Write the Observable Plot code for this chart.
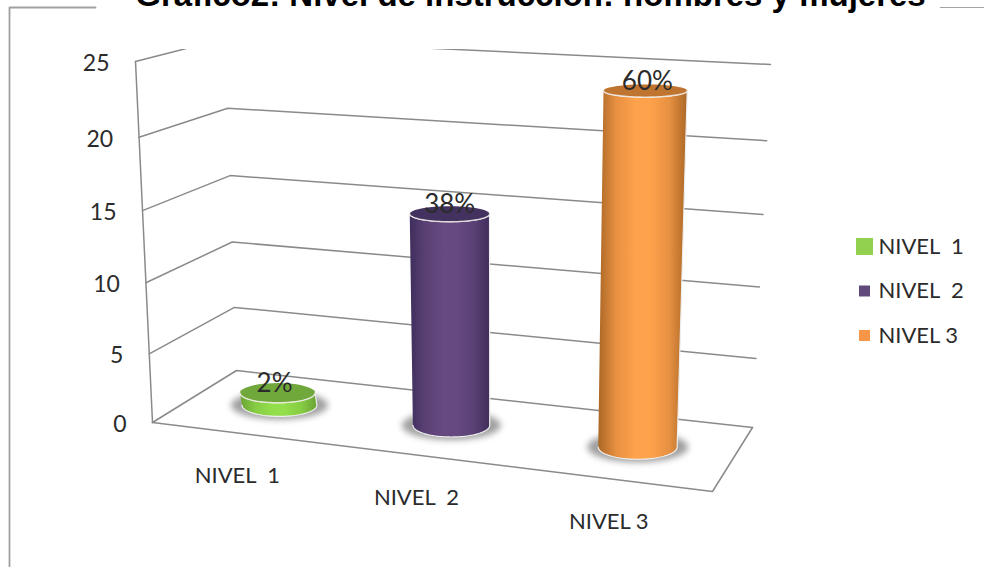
<!DOCTYPE html>
<html lang="es">
<head>
<meta charset="utf-8">
<title>Gráfico 2</title>
<script src="https://cdn.jsdelivr.net/npm/d3@7"></script>
<script src="https://cdn.jsdelivr.net/npm/@observablehq/plot@0.6"></script>
<style>
  html, body { margin: 0; padding: 0; background: #fff; }
  svg { display: block; }
</style>
</head>
<body>
<script>
// Chart content
const chartTitle = "Gráfico2: Nivel de instrucción: hombres y mujeres";
const categories = ["NIVEL  1", "NIVEL  2", "NIVEL 3"];
const legendLabels = ["NIVEL  1", "NIVEL  2", "NIVEL 3"];
const counts = [1, 15, 24];
const shares = ["2%", "38%", "60%"];
const valueTicks = [0, 5, 10, 15, 20, 25];

// Bar colours: legend swatch, lit side, shaded side, cap
const swatchColors = ["#92d050", "#604a7b", "#f79646"];
const sideLight = ["#93de4b", "#66497f", "#ffa24c"];
const sideDark = ["#68a233", "#3f2e5c", "#ab6726"];
const capColors = ["#70a83c", "#43325f", "#bf7530"];

// Oblique view of the chart box: floor corners and how each vertical edge rises.
const floor = {fl: [152, 422], bl: [236, 370], br: [752, 427], fr: [712, 491]};
const rise = {fl: [-17, -361], bl: [-11, -332], br: [18, -363], fr: [10, -395]};
// Heights foreshorten slightly, so the value scale is piecewise.
const heightScale = Plot.scale({
  y: {type: "linear", domain: valueTicks, range: [0, 0.19, 0.387, 0.587, 0.79, 1]}
});
// Where each category stands along the width of the floor.
const slotScale = Plot.scale({
  x: {type: "ordinal", domain: categories, range: [0.155, 0.475, 0.822]}
});

const mix = (a, b, t) => a + (b - a) * t;
const mix2 = (a, b, t) => [mix(a[0], b[0], t), mix(a[1], b[1], t)];
// u runs left to right, w runs front to back, v is the chart value.
function project(u, w, v) {
  const base = mix2(mix2(floor.fl, floor.fr, u), mix2(floor.bl, floor.br, u), w);
  const up = mix2(mix2(rise.fl, rise.fr, u), mix2(rise.bl, rise.br, u), w);
  const t = heightScale.apply(v);
  return {x: base[0] + up[0] * t, y: base[1] + up[1] * t};
}

// Wall gridlines run front-left, back-left, back-right at each tick value.
const gridPoints = valueTicks.flatMap((v) =>
  [project(0, 0, v), project(0, 1, v), project(1, 1, v)].map((p) => ({...p, v}))
);
const outlineFloor = [project(0, 0, 0), project(1, 0, 0), project(1, 1, 0)];
const leftEdge = [project(0, 0, 25), project(0, 0, 0)];

function arc(c, rx, ry, from, to, n = 48) {
  return d3.range(n + 1).map((i) => {
    const a = mix(from, to, i / n);
    return {x: c.x + rx * Math.cos(a), y: c.y + ry * Math.sin(a)};
  });
}

// Derived geometry of one cylinder.
const bars = categories.map((c, i) => {
  const u = slotScale.apply(c);
  const t = heightScale.apply(counts[i]);
  const bottom = project(u, 0.52, 0);
  const top = project(u, 0.5, counts[i]);
  const rxBase = 37 + 3 * u;
  const rxTop = rxBase + 2.5 * t;
  const ryBase = 11 + 1.5 * u;
  const ryTop = 10 - 3.8 * t;
  return {i, c, u, bottom, top, rxBase, rxTop, ryBase, ryTop};
});

const sidePath = (b) => [
  ...arc(b.bottom, b.rxBase, b.ryBase, Math.PI, 0),
  ...arc(b.top, b.rxTop, b.ryTop, 0, Math.PI)
];
const capPath = (b) => arc(b.top, b.rxTop, b.ryTop, 0, 2 * Math.PI);
const rimPath = (b) => arc(b.top, b.rxTop, b.ryTop, 0, Math.PI);
const shadowPath = (b) => arc(b.bottom, b.rxBase + 11, b.ryBase + 3, 0, 2 * Math.PI);

// Horizontal shading for the cylinder sides.
function gradients() {
  const defs = d3.create("svg:defs");
  bars.forEach(({i}) => {
    const shade = d3.interpolateRgb(sideDark[i], sideLight[i]);
    const g = defs.append("linearGradient").attr("id", `side${i}`);
    [[0, shade(0)], [0.2, shade(0.7)], [0.42, shade(1)], [0.58, shade(1)], [0.8, shade(0.7)], [1, shade(0)]]
      .forEach(([o, col]) => g.append("stop").attr("offset", o).attr("stop-color", col));
  });
  return defs.node();
}

const grey = "#8a8a8a";
const textColor = "#2b2b2b";
const font = "Lato, 'Open Sans', sans-serif";

const marks = [
  gradients,

  // Outer frame of the figure
  Plot.line([{x: 95, y: 7}, {x: 9, y: 7}, {x: 9, y: 567}], {x: "x", y: "y", stroke: "#a0a0a0", strokeWidth: 1.8}),
  Plot.line([{x: 940, y: 7}, {x: 984, y: 7}], {x: "x", y: "y", stroke: "#a3a3a3", strokeWidth: 1.2}),

  Plot.text([chartTitle], {
    x: 530, y: 5, text: (d) => d, textAnchor: "middle", lineAnchor: "bottom",
    fontFamily: "'Liberation Sans', Arial, sans-serif", fontWeight: 700, fontSize: 33, fill: "#000"
  }),

  // Box of the chart; the top of the back wall is cut at the plot frame
  Plot.line(gridPoints, {x: "x", y: "y", z: "v", stroke: grey, strokeWidth: 1.5, clip: "frame"}),
  Plot.line(leftEdge, {x: "x", y: "y", stroke: grey, strokeWidth: 1.5}),
  Plot.line(outlineFloor, {x: "x", y: "y", stroke: grey, strokeWidth: 1.5}),

  Plot.text(valueTicks, {
    x: (v) => project(0, 0, v).x - 26, y: (v) => project(0, 0, v).y + 2, text: String,
    textAnchor: "end", fontFamily: font, fontSize: 23, fill: textColor
  }),
  Plot.text(bars, {
    x: (b) => project(b.u, 0, 0).x - (b.i === 2 ? 4 : 2), y: (b) => project(b.u, 0, 0).y + 43, text: (b) => b.c,
    fontFamily: font, fontSize: 22, fill: textColor
  }),

  // Cylinders, each with a soft floor shadow
  ...bars.flatMap((b) => [
    Plot.line(shadowPath(b), {x: "x", y: "y", fill: "#a0a0a0", stroke: "none", imageFilter: "blur(3px)"}),
    Plot.line(sidePath(b), {x: "x", y: "y", fill: `url(#side${b.i})`, stroke: "#eeeeee", strokeWidth: 1.2}),
    Plot.line(capPath(b), {x: "x", y: "y", fill: capColors[b.i], stroke: "none"}),
    Plot.line(rimPath(b), {x: "x", y: "y", stroke: "#f1ece6", strokeWidth: 1.4, strokeOpacity: 0.85})
  ]),

  Plot.text(bars, {
    x: (b) => b.top.x + (b.i === 2 ? 2 : b.i === 0 ? -3 : 0), y: (b) => b.top.y - 9, text: (b) => shares[b.i],
    fontFamily: font, fontSize: 26, fill: textColor
  }),

  // Legend
  Plot.dot(legendLabels, {
    x: 864, y: (d, i) => 246 + i * 44.5, symbol: "square", r: (d, i) => (i === 0 ? 9.6 : 6.2),
    fill: (d, i) => swatchColors[i], stroke: "none"
  }),
  Plot.text(legendLabels, {
    x: 878, y: (d, i) => 246 + i * 44.5, text: (d) => d, textAnchor: "start",
    fontFamily: font, fontSize: 22, fill: textColor
  })
];

const chart = Plot.plot({
  width: 984,
  height: 567,
  marginTop: 49, marginRight: 0, marginBottom: 0, marginLeft: 0,
  style: {background: "#fff", whiteSpace: "pre", overflow: "hidden"},
  x: {domain: [0, 984], range: [0, 984], axis: null},
  y: {domain: [0, 567], range: [0, 567], axis: null},
  r: {type: "identity"},
  marks
});
document.body.append(chart);
</script>
</body>
</html>
